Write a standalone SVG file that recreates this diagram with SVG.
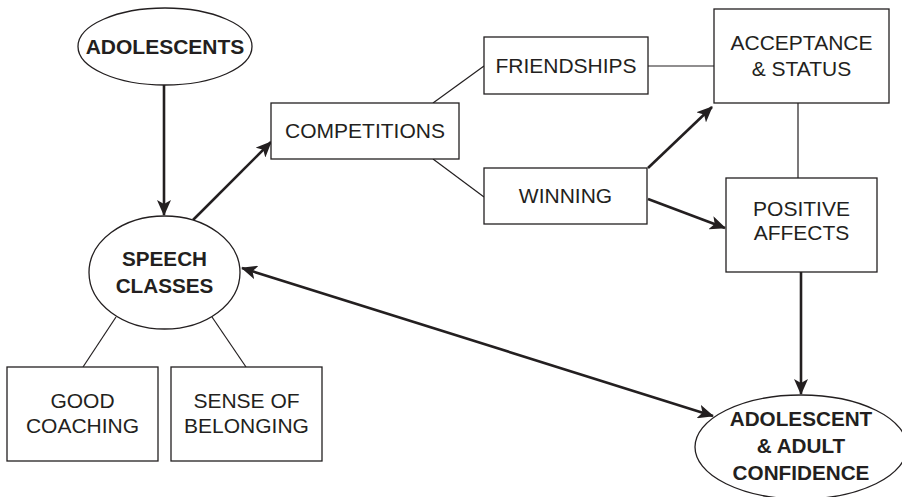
<svg xmlns="http://www.w3.org/2000/svg" width="902" height="497" viewBox="0 0 902 497">
<style>
.box{fill:#fff;stroke:#231f20;stroke-width:1.3}
.ell{fill:#fff;stroke:#231f20;stroke-width:1.3}
.t{font-family:"Liberation Sans",Arial,sans-serif;font-size:21px;fill:#231f20;text-anchor:middle}
.b{font-weight:bold;font-size:20.7px}
.thin{stroke:#231f20;stroke-width:1.2;fill:none}
.arr{stroke:#231f20;stroke-width:2.6;fill:none;marker-end:url(#ah)}
</style>
<defs>
<marker id="ah" markerUnits="userSpaceOnUse" viewBox="0 0 16 14" markerWidth="16" markerHeight="14" refX="15" refY="7" orient="auto-start-reverse">
<path d="M0,0 L16,7 L0,14 L4,7 z" fill="#231f20"/>
</marker>
</defs>
<rect width="902" height="497" fill="#fff"/>
<g id="connectors">
<line class="thin" x1="433" y1="103" x2="484" y2="66"/>
<line class="thin" x1="433" y1="159" x2="484" y2="197"/>
<line class="thin" x1="648" y1="66" x2="714" y2="66"/>
<line class="thin" x1="798" y1="103" x2="798" y2="178"/>
<line class="thin" x1="116" y1="317" x2="83" y2="367"/>
<line class="thin" x1="212" y1="317" x2="246" y2="367"/>
<line class="arr" x1="164" y1="85" x2="164" y2="215"/>
<line class="arr" x1="193" y1="220" x2="271" y2="142"/>
<line class="arr" x1="648" y1="168" x2="712" y2="107"/>
<line class="arr" x1="648" y1="199" x2="725" y2="228"/>
<line class="arr" x1="801" y1="272" x2="801" y2="394"/>
<line class="arr" x1="242" y1="268" x2="713" y2="416" marker-start="url(#ah)"/>
</g>
<g id="adolescents">
<ellipse class="ell" cx="165" cy="46.5" rx="87" ry="38.5"/>
<text class="t b" x="165" y="53.5" style="font-size:21px">ADOLESCENTS</text>
</g>
<g id="speech-classes">
<ellipse class="ell" cx="164.5" cy="272.5" rx="75.5" ry="56.5"/>
<text class="t b" x="164.5" y="266">SPEECH</text>
<text class="t b" x="164.5" y="293">CLASSES</text>
</g>
<g id="competitions">
<rect class="box" x="271" y="103" width="188" height="56"/>
<text class="t" x="365" y="138">COMPETITIONS</text>
</g>
<g id="friendships">
<rect class="box" x="484" y="37" width="164" height="57"/>
<text class="t" x="566" y="73">FRIENDSHIPS</text>
</g>
<g id="winning">
<rect class="box" x="484" y="168" width="163" height="56"/>
<text class="t" x="565.5" y="203">WINNING</text>
</g>
<g id="acceptance-status">
<rect class="box" x="714" y="9" width="175" height="94"/>
<text class="t" x="801.5" y="50">ACCEPTANCE</text>
<text class="t" x="801.5" y="76">&amp; STATUS</text>
</g>
<g id="positive-affects">
<rect class="box" x="726" y="178" width="151" height="94"/>
<text class="t" x="801.5" y="216">POSITIVE</text>
<text class="t" x="801.5" y="240">AFFECTS</text>
</g>
<g id="good-coaching">
<rect class="box" x="7" y="367" width="151" height="94"/>
<text class="t" x="82.5" y="408">GOOD</text>
<text class="t" x="82.5" y="433">COACHING</text>
</g>
<g id="sense-of-belonging">
<rect class="box" x="171" y="367" width="151" height="94"/>
<text class="t" x="246.5" y="408">SENSE OF</text>
<text class="t" x="246.5" y="433">BELONGING</text>
</g>
<g id="confidence">
<ellipse class="ell" cx="801" cy="447" rx="106" ry="52"/>
<text class="t b" x="801" y="426">ADOLESCENT</text>
<text class="t b" x="801" y="453">&amp; ADULT</text>
<text class="t b" x="801" y="480">CONFIDENCE</text>
</g>
</svg>
